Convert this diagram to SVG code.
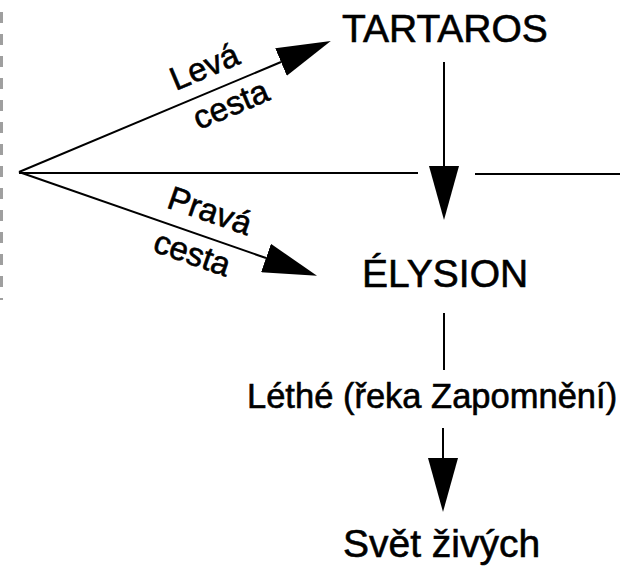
<svg xmlns="http://www.w3.org/2000/svg" width="639" height="573" viewBox="0 0 639 573">
<defs>
<marker id="ah" viewBox="0 0 54 30" refX="0" refY="15" markerWidth="54" markerHeight="30" markerUnits="userSpaceOnUse" orient="auto">
<path d="M0,0 L54,15 L0,30 z" fill="#000"/>
</marker>
<style>
.ln{stroke:#000;stroke-width:2;fill:none}
.arr{marker-end:url(#ah)}
text{font-family:"Liberation Sans",Arial,sans-serif;fill:#000;stroke:#000;stroke-width:0.6}
.big{font-size:39px}
.mid{font-size:34.5px}
.lab{font-size:33px}
</style>
</defs>
<rect width="639" height="573" fill="#fff"/>
<line x1="1.5" y1="12" x2="1.5" y2="300" stroke="#777" stroke-width="3" stroke-dasharray="11 11" opacity="0.7"/>
<g id="connectors">
<line class="ln arr" x1="19" y1="172" x2="281" y2="62"/>
<line class="ln arr" x1="19" y1="172" x2="266" y2="258"/>
<line class="ln" x1="19" y1="173" x2="418" y2="173"/>
<line class="ln" x1="475" y1="174" x2="620" y2="174"/>
<line class="ln arr" x1="444" y1="62" x2="444" y2="166"/>
<line class="ln" x1="444" y1="313" x2="444" y2="370"/>
<line class="ln arr" x1="443" y1="428" x2="443" y2="458"/>
<g transform="translate(19,172) rotate(-22.8)">
<text class="lab" x="176" y="-14">Levá</text>
<text class="lab" x="182" y="31">cesta</text>
</g>
<g transform="translate(19,172) rotate(19.2)">
<text class="lab" x="150" y="-15">Pravá</text>
<text class="lab" x="151" y="31">cesta</text>
</g>
</g>
<g id="tartaros"><text class="big" x="342" y="42">TARTAROS</text></g>
<g id="elysion"><text class="big" x="362" y="287">ÉLYSION</text></g>
<g id="lethe"><text class="mid" x="247" y="408">Léthé (řeka Zapomnění)</text></g>
<g id="svet"><text class="big" x="343" y="557">Svět živých</text></g>
</svg>
